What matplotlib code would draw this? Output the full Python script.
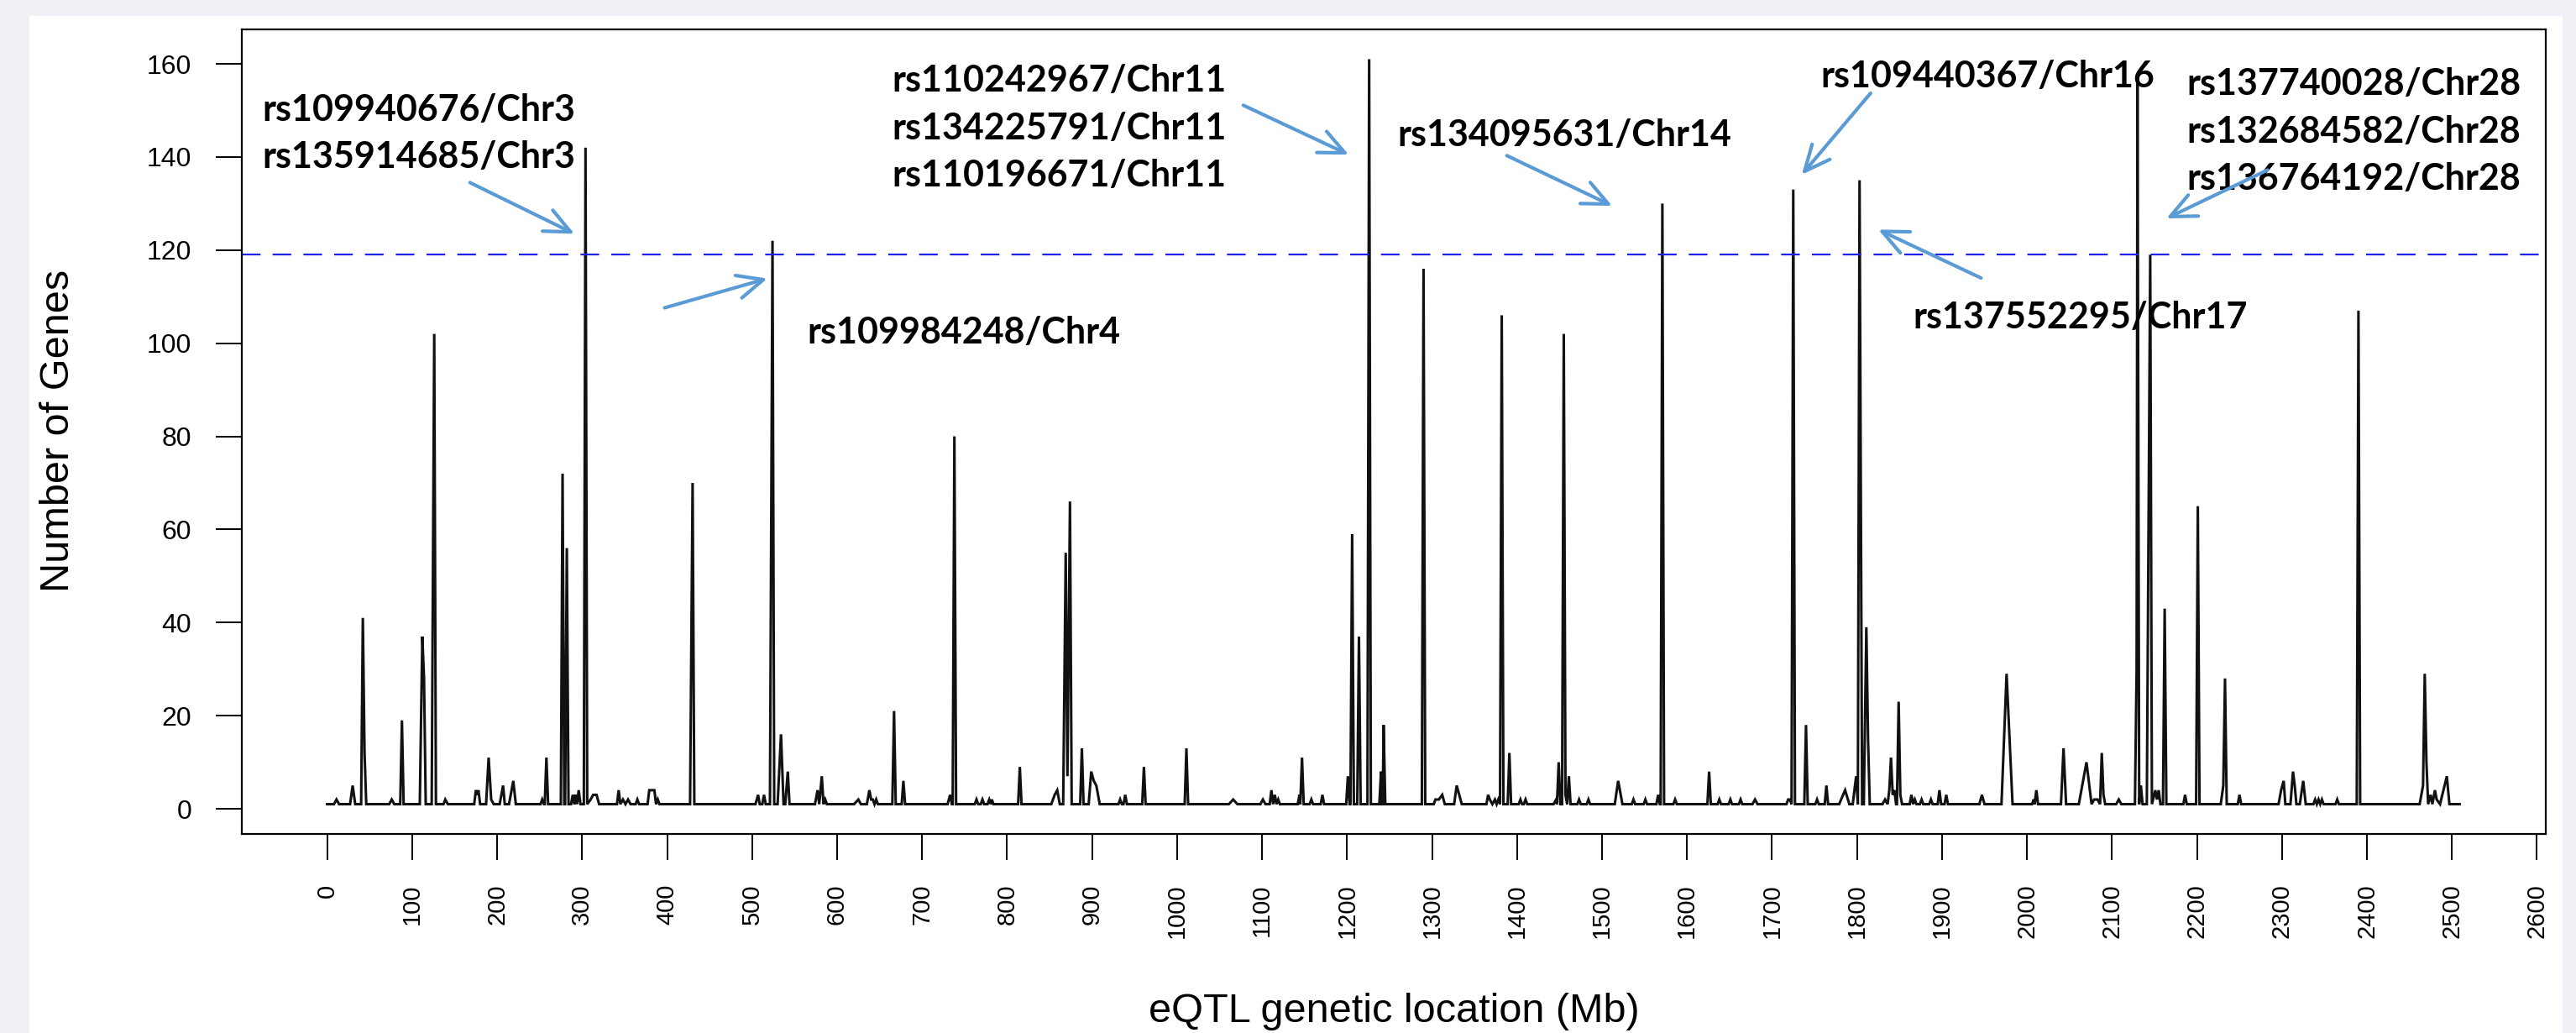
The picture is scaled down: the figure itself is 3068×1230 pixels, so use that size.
import matplotlib
matplotlib.use('Agg')
import matplotlib.pyplot as plt
from matplotlib.patches import Rectangle

# eQTL genetic location (Mb) and number of associated genes
eqtl_mb = [
    0, 8, 11, 14, 27, 30, 33, 40, 42, 44, 46,
    73, 76, 79, 86, 88, 90, 109, 112, 114, 116,
    123, 126, 128, 137, 139, 142, 173, 175, 177, 178, 180,
    187, 190, 193, 196, 203, 207, 209, 214, 219, 222,
    251, 253, 255, 256, 258, 260, 275, 277, 279, 280, 282, 284,
    287, 289, 291, 292, 294, 296, 298, 302, 304, 306,
    310, 313, 315, 317, 320, 341, 343, 345, 348, 351,
    354, 357, 363, 365, 367, 377, 379, 382, 385, 387, 389, 391,
    427, 430, 432, 504, 507, 509, 512, 514, 516, 521, 524, 526,
    530, 534, 537, 539, 542, 544, 574, 577, 579, 582, 584, 586, 588,
    620, 625, 628, 635, 638, 640, 642, 644, 646, 648,
    665, 667, 669, 676, 678, 680, 730, 733, 735, 736, 738, 740,
    762, 764, 766, 769, 771, 773, 777, 779, 781, 782, 784,
    813, 815, 817, 852, 856, 859, 862, 866, 869, 871, 874, 876,
    886, 888, 890, 896, 899, 902, 905, 909, 931, 933, 935, 937, 939, 941,
    959, 961, 963, 1009, 1011, 1013, 1061, 1066, 1071, 1098, 1101, 1104,
    1109, 1111, 1113, 1115, 1117, 1119, 1121, 1142, 1144, 1145, 1147, 1149,
    1156, 1158, 1160, 1169, 1171, 1173, 1199, 1201, 1203, 1204, 1206, 1208,
    1212, 1214, 1216, 1224, 1226, 1228, 1238, 1240, 1241, 1242, 1243, 1245,
    1288, 1290, 1292, 1302, 1304, 1308, 1312, 1315, 1326, 1329, 1332, 1335,
    1364, 1366, 1368, 1371, 1374, 1376, 1378, 1380, 1382, 1384, 1389, 1391, 1393,
    1402, 1404, 1406, 1408, 1410, 1412, 1443, 1446, 1447, 1449, 1451, 1453, 1455, 1457, 1459, 1461, 1463,
    1471, 1473, 1475, 1482, 1484, 1486, 1515, 1519, 1521, 1524, 1535, 1537, 1539,
    1549, 1551, 1553, 1564, 1566, 1568, 1569, 1571, 1573, 1584, 1586, 1588,
    1624, 1626, 1628, 1636, 1638, 1640, 1649, 1651, 1653, 1661, 1663, 1665, 1677, 1680, 1683,
    1717, 1719, 1721, 1723, 1725, 1727, 1738, 1740, 1742, 1751, 1753, 1755, 1762, 1764, 1766,
    1779, 1786, 1791, 1795, 1799, 1801, 1803, 1806, 1808, 1811, 1813, 1815,
    1830, 1833, 1836, 1838, 1840, 1842, 1844, 1846, 1847, 1849, 1851, 1853,
    1862, 1864, 1866, 1868, 1870, 1874, 1876, 1878, 1885, 1887, 1889, 1895, 1897, 1899, 1903, 1905, 1907,
    1944, 1947, 1950, 1970, 1976, 1983, 2006, 2008, 2009, 2011, 2013, 2040, 2043, 2046,
    2061, 2070, 2076, 2079, 2083, 2086, 2088, 2090, 2092, 2105, 2108, 2111,
    2127, 2129, 2130, 2132, 2134, 2136, 2141, 2145, 2147, 2151, 2153, 2155, 2157,
    2160, 2162, 2164, 2184, 2186, 2188, 2199, 2201, 2203, 2228, 2231, 2233, 2235,
    2248, 2250, 2252, 2296, 2299, 2302, 2304, 2306, 2310, 2313, 2315, 2317,
    2321, 2325, 2328, 2337, 2339, 2341, 2343, 2345, 2347, 2349, 2363, 2365, 2367,
    2388, 2390, 2392, 2462, 2466, 2468, 2470, 2472, 2475, 2477, 2480, 2482, 2486, 2490, 2494, 2497, 2509,
]
n_genes = [
    1, 1, 2, 1, 1, 5, 1, 1, 41, 12, 1,
    1, 2, 1, 1, 19, 1, 1, 37, 28, 1,
    1, 102, 1, 1, 2, 1, 1, 4, 3, 4, 1,
    1, 11, 2, 1, 1, 5, 1, 1, 6, 1,
    1, 2, 1, 1, 11, 1, 1, 72, 1, 1, 56, 1,
    1, 3, 1, 3, 1, 4, 1, 1, 142, 1,
    2, 3, 3, 3, 1, 1, 4, 1, 2, 1,
    2, 1, 1, 2, 1, 1, 4, 4, 4, 1, 2, 1,
    1, 70, 1, 1, 3, 1, 1, 3, 1, 1, 122, 1,
    1, 16, 1, 1, 8, 1, 1, 4, 1, 7, 1, 2, 1,
    1, 2, 1, 1, 4, 2, 2, 1, 2, 1,
    1, 21, 1, 1, 6, 1, 1, 3, 1, 1, 80, 1,
    1, 2, 1, 1, 2, 1, 1, 2, 1, 2, 1,
    1, 9, 1, 1, 3, 4, 1, 1, 55, 7, 66, 1,
    1, 13, 1, 1, 8, 6, 5, 1, 1, 2, 1, 1, 3, 1,
    1, 9, 1, 1, 13, 1, 1, 2, 1, 1, 2, 1,
    1, 4, 1, 3, 1, 2, 1, 1, 3, 1, 11, 1,
    1, 2, 1, 1, 3, 1, 1, 7, 1, 1, 59, 1,
    1, 37, 1, 1, 161, 1, 1, 8, 1, 1, 18, 1,
    1, 116, 1, 1, 2, 2, 3, 1, 1, 5, 3, 1,
    1, 3, 2, 1, 2, 1, 2, 1, 106, 1, 1, 12, 1,
    1, 2, 1, 1, 2, 1, 1, 2, 1, 10, 1, 1, 102, 3, 1, 7, 1,
    1, 2, 1, 1, 2, 1, 1, 6, 4, 1, 1, 2, 1,
    1, 2, 1, 1, 3, 1, 1, 130, 1, 1, 2, 1,
    1, 8, 1, 1, 2, 1, 1, 2, 1, 1, 2, 1, 1, 2, 1,
    1, 2, 2, 1, 133, 1, 1, 18, 1, 1, 2, 1, 1, 5, 1,
    1, 4, 1, 1, 7, 1, 135, 1, 1, 39, 15, 1,
    1, 2, 1, 4, 11, 3, 4, 1, 1, 23, 3, 1,
    1, 3, 1, 2, 1, 1, 2, 1, 1, 2, 1, 1, 4, 1, 1, 3, 1,
    1, 3, 1, 1, 29, 1, 1, 2, 1, 4, 1, 1, 13, 1,
    1, 10, 1, 2, 2, 1, 12, 3, 1, 1, 2, 1,
    1, 30, 158, 1, 5, 1, 1, 119, 1, 4, 2, 4, 1,
    1, 43, 1, 1, 3, 1, 1, 65, 1, 1, 5, 28, 1,
    1, 3, 1, 1, 4, 6, 1, 1, 1, 8, 5, 1,
    1, 6, 1, 1, 2, 1, 2, 1, 2, 1, 1, 2, 1,
    1, 107, 1, 1, 5, 29, 10, 1, 3, 1, 4, 2, 1, 4, 7, 1, 1,
]
assert len(eqtl_mb) == len(n_genes)

threshold = 119
x_ticks = list(range(0, 2700, 100))
y_ticks = list(range(0, 180, 20))

# SNP labels for the peaks above the threshold
snp_labels = [
    ["rs109940676/Chr3", "rs135914685/Chr3"],
    ["rs109984248/Chr4"],
    ["rs110242967/Chr11", "rs134225791/Chr11", "rs110196671/Chr11"],
    ["rs134095631/Chr14"],
    ["rs109440367/Chr16"],
    ["rs137740028/Chr28", "rs132684582/Chr28", "rs136764192/Chr28"],
    ["rs137552295/Chr17"],
]
# layout: left edge / vertical centre of each label block, arrow tail and head
label_pos = [(-76, 145.0), (565, 102.3), (664.6, 146.2), (1259, 144.6),
             (1756.8, 157.3), (2188, 145.4), (1866.3, 105.6)]
arrow_pos = [((168, 134.5), (291, 123.5)),
             ((397, 107.6), (518, 113.9)),
             ((1078, 151.1), (1202, 140.5)),
             ((1388, 140.3), (1512, 129.5)),
             ((1816, 153.7), (1735, 136.2)),
             ((2283, 137.2), (2164, 126.8)),
             ((1946, 114.0), (1825, 124.4))]

W, H = 3068, 1230
fig = plt.figure(figsize=(W / 100, H / 100), dpi=100, facecolor='#eff1f6')
fig.patches.append(Rectangle((35 / W, 0), (3052 - 35) / W, (H - 19) / H,
                             transform=fig.transFigure, facecolor='white',
                             edgecolor='none', zorder=-10))

ax = fig.add_axes([288 / W, 1 - 993 / H, (3032 - 288) / W, (993 - 35) / H])
ax.set_zorder(1)
ax.set_facecolor('white')

ax.plot(eqtl_mb, n_genes, color='#111111', lw=2.2, solid_joinstyle='miter')
ax.axhline(threshold, color='#1f1fee', lw=1.6, dashes=(10, 6.5))

ax.set_xlim(-100.4, 2610.4)
ax.set_ylim(-5.4, 167.4)

ax.set_xticks(x_ticks)
ax.set_xticklabels([str(v) for v in x_ticks], rotation=90,
                   family=['Liberation Sans', 'DejaVu Sans'], size=21)
ax.set_yticks(y_ticks)
ax.set_yticklabels([str(v) for v in y_ticks],
                   family=['Liberation Sans', 'DejaVu Sans'], size=23)
ax.tick_params(axis='both', direction='out', length=22, width=1.4, pad=21,
               colors='black')

for sp in ax.spines.values():
    sp.set_linewidth(1.6)
    sp.set_color('black')

fig.text(70 / W, 1 - 513 / H, 'Number of Genes', rotation=90, ha='center',
         va='center', family=['Liberation Sans', 'DejaVu Sans'], size=35)
fig.text(1660 / W, 1 - 1217 / H, 'eQTL genetic location (Mb)', ha='center',
         va='baseline', family=['Liberation Sans', 'DejaVu Sans'], size=35)

for lines, (lx, ly) in zip(snp_labels, label_pos):
    ax.text(lx, ly, '\n'.join(lines), ha='left', va='center',
            family=['Lato', 'DejaVu Sans'], weight='bold', size=31,
            linespacing=1.5, color='black', clip_on=False)

for tail, head in arrow_pos:
    ax.annotate('', xy=head, xytext=tail, xycoords='data',
                arrowprops=dict(arrowstyle='->,head_length=1.1,head_width=0.5',
                                color='#5b9bd5', lw=3, mutation_scale=20,
                                shrinkA=0, shrinkB=0))

fig.savefig('out.png', dpi=100, facecolor=fig.get_facecolor())
